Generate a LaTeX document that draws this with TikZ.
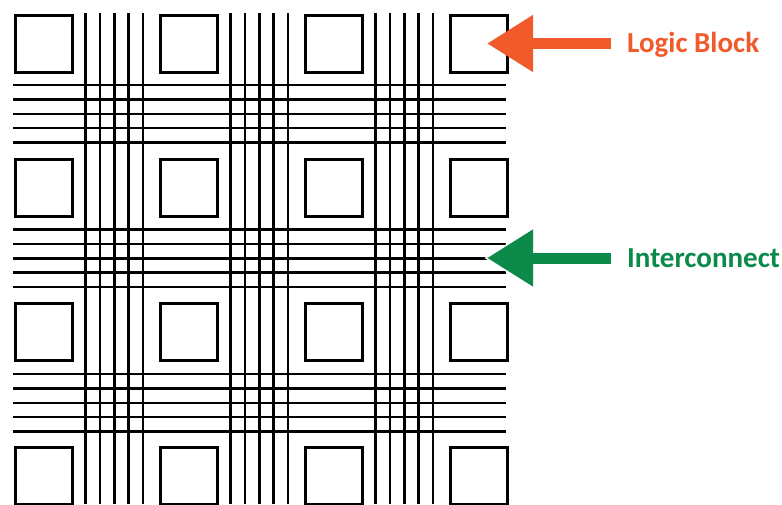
\documentclass[tikz,border=0pt]{standalone}
\usepackage{fontspec}
\setmainfont{Carlito}
\usetikzlibrary{arrows.meta}

\definecolor{blockorange}{HTML}{F15A2B}
\definecolor{wiregreen}{HTML}{0B8A4A}

\tikzset{
    logicblock/.style={draw=black, line width=3pt, minimum size=57pt, inner sep=0pt, anchor=north west},
    wire/.style={draw=black, line width=2.5pt},
    pointer/.style={line width=11pt, -{Triangle[length=46pt, width=54pt]}},
    tag/.style={font=\bfseries\fontsize{29}{29}\selectfont, inner sep=0pt, anchor=base west}
}

\begin{document}
\begin{tikzpicture}[x=1pt, y=-1pt]
    \useasboundingbox (0,0) rectangle (782,504);

    % routing tracks
    \foreach \g in {0,1,2} {
        \foreach \i in {0,...,4} {
            \draw[wire] (13, 85+144.5*\g+14.4*\i) -- (506, 85+144.5*\g+14.4*\i);
            \draw[wire] (85.5+145*\g+14.4*\i, 13) -- (85.5+145*\g+14.4*\i, 504);
        }
    }

    % logic blocks
    \foreach \r in {0,...,3} {
        \foreach \c in {0,...,3} {
            \node[logicblock, fill=white] (blk-\r-\c) at (13.5+145*\c, 13.5+144.2*\r) {};
        }
    }

    % labels
    \coordinate (tipblk) at (487,43.5);
    \coordinate (tipwire) at (487,258);
    \node[tag, text=blockorange] (lblblk) at (627,52) {Logic Block};
    \node[tag, text=wiregreen] (lblwire) at (627,267) {Interconnect};
    \draw[pointer, draw=white, line width=15pt, -{Triangle[length=52pt, width=62pt]}] ([xshift=-18pt]lblwire.west |- tipwire) -- ([xshift=-3pt]tipwire);
    \draw[pointer, blockorange] ([xshift=-16pt]lblblk.west |- tipblk) -- (tipblk);
    \draw[pointer, wiregreen] ([xshift=-16pt]lblwire.west |- tipwire) -- (tipwire);

\end{tikzpicture}
\end{document}
